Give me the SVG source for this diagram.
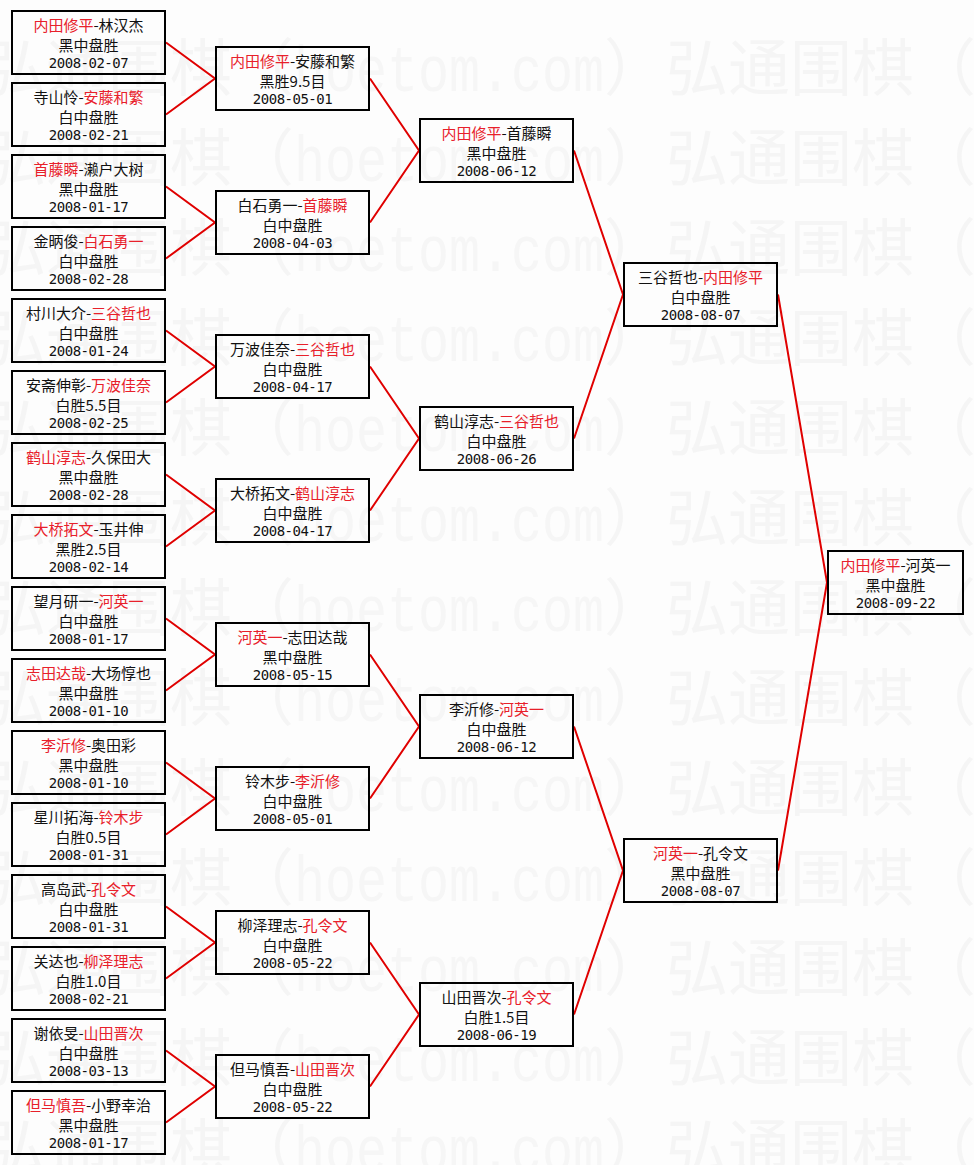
<svg xmlns="http://www.w3.org/2000/svg" xmlns:xlink="http://www.w3.org/1999/xlink" width="974" height="1165" viewBox="0 0 974 1165">
<style>
.b{fill:none;stroke:#000;stroke-width:2}
.t{font-family:"Noto Sans CJK SC","Noto Sans",sans-serif;font-size:15px;fill:#111;text-anchor:middle}
.d{font-family:"DejaVu Sans Mono","Liberation Mono",monospace;font-size:14px;letter-spacing:-0.5px;fill:#111;text-anchor:middle}
.r{fill:#e8202a}
.c{fill:none;stroke:#e00000;stroke-width:2}
.wmc{font-family:"Noto Sans CJK SC",sans-serif;font-size:62px;fill:#f5f5f5}
.wml{font-family:"Liberation Mono",monospace;font-size:64px;fill:#f6f6f6}
</style>
<defs>
<g id="wm"><text class="wmc" x="0" y="0">弘通围棋（</text><text class="wml" x="310" y="0" textLength="310" lengthAdjust="spacingAndGlyphs">hoetom.com</text><text class="wmc" x="620" y="0">）</text></g>
<g id="box"><rect class="b" x="1" y="1" width="153" height="63"/></g>
</defs>
<rect x="0" y="0" width="974" height="1165" fill="#fdfdfd"/>
<g id="watermark">
<use xlink:href="#wm" x="-16" y="91"/><use xlink:href="#wm" x="666" y="91"/>
<use xlink:href="#wm" x="-16" y="181"/><use xlink:href="#wm" x="666" y="181"/>
<use xlink:href="#wm" x="-16" y="271"/><use xlink:href="#wm" x="666" y="271"/>
<use xlink:href="#wm" x="-16" y="361"/><use xlink:href="#wm" x="666" y="361"/>
<use xlink:href="#wm" x="-16" y="451"/><use xlink:href="#wm" x="666" y="451"/>
<use xlink:href="#wm" x="-16" y="541"/><use xlink:href="#wm" x="666" y="541"/>
<use xlink:href="#wm" x="-16" y="631"/><use xlink:href="#wm" x="666" y="631"/>
<use xlink:href="#wm" x="-16" y="721"/><use xlink:href="#wm" x="666" y="721"/>
<use xlink:href="#wm" x="-16" y="811"/><use xlink:href="#wm" x="666" y="811"/>
<use xlink:href="#wm" x="-16" y="901"/><use xlink:href="#wm" x="666" y="901"/>
<use xlink:href="#wm" x="-16" y="991"/><use xlink:href="#wm" x="666" y="991"/>
<use xlink:href="#wm" x="-16" y="1081"/><use xlink:href="#wm" x="666" y="1081"/>
<use xlink:href="#wm" x="-16" y="1171"/><use xlink:href="#wm" x="666" y="1171"/>
</g>
<g id="connectors">
<polyline class="c" points="166,42.5 215,78.5 166,114.5"/>
<polyline class="c" points="166,186.5 215,222.5 166,258.5"/>
<polyline class="c" points="166,330.5 215,366.5 166,402.5"/>
<polyline class="c" points="166,474.5 215,510.5 166,546.5"/>
<polyline class="c" points="166,618.5 215,654.5 166,690.5"/>
<polyline class="c" points="166,762.5 215,798.5 166,834.5"/>
<polyline class="c" points="166,906.5 215,942.5 166,978.5"/>
<polyline class="c" points="166,1050.5 215,1086.5 166,1122.5"/>
<polyline class="c" points="370,78.5 419,150.5 370,222.5"/>
<polyline class="c" points="370,366.5 419,438.5 370,510.5"/>
<polyline class="c" points="370,654.5 419,726.5 370,798.5"/>
<polyline class="c" points="370,942.5 419,1014.5 370,1086.5"/>
<polyline class="c" points="574,150.5 623,294.5 574,438.5"/>
<polyline class="c" points="574,726.5 623,870.5 574,1014.5"/>
<polyline class="c" points="778,294.5 827,582.5 778,870.5"/>
</g>
<g id="r1-1" transform="translate(11,10)"><use xlink:href="#box"/><text class="t" x="77.5" y="21"><tspan class="r">内田修平</tspan>-林汉杰</text><text class="t" x="77.5" y="40.5">黑中盘胜</text><text class="d" x="77.5" y="58">2008-02-07</text></g>
<g id="r1-2" transform="translate(11,82)"><use xlink:href="#box"/><text class="t" x="77.5" y="21">寺山怜-<tspan class="r">安藤和繁</tspan></text><text class="t" x="77.5" y="40.5">白中盘胜</text><text class="d" x="77.5" y="58">2008-02-21</text></g>
<g id="r1-3" transform="translate(11,154)"><use xlink:href="#box"/><text class="t" x="77.5" y="21"><tspan class="r">首藤瞬</tspan>-濑户大树</text><text class="t" x="77.5" y="40.5">黑中盘胜</text><text class="d" x="77.5" y="58">2008-01-17</text></g>
<g id="r1-4" transform="translate(11,226)"><use xlink:href="#box"/><text class="t" x="77.5" y="21">金昞俊-<tspan class="r">白石勇一</tspan></text><text class="t" x="77.5" y="40.5">白中盘胜</text><text class="d" x="77.5" y="58">2008-02-28</text></g>
<g id="r1-5" transform="translate(11,298)"><use xlink:href="#box"/><text class="t" x="77.5" y="21">村川大介-<tspan class="r">三谷哲也</tspan></text><text class="t" x="77.5" y="40.5">白中盘胜</text><text class="d" x="77.5" y="58">2008-01-24</text></g>
<g id="r1-6" transform="translate(11,370)"><use xlink:href="#box"/><text class="t" x="77.5" y="21">安斋伸彰-<tspan class="r">万波佳奈</tspan></text><text class="t" x="77.5" y="40.5">白胜5.5目</text><text class="d" x="77.5" y="58">2008-02-25</text></g>
<g id="r1-7" transform="translate(11,442)"><use xlink:href="#box"/><text class="t" x="77.5" y="21"><tspan class="r">鹤山淳志</tspan>-久保田大</text><text class="t" x="77.5" y="40.5">黑中盘胜</text><text class="d" x="77.5" y="58">2008-02-28</text></g>
<g id="r1-8" transform="translate(11,514)"><use xlink:href="#box"/><text class="t" x="77.5" y="21"><tspan class="r">大桥拓文</tspan>-玉井伸</text><text class="t" x="77.5" y="40.5">黑胜2.5目</text><text class="d" x="77.5" y="58">2008-02-14</text></g>
<g id="r1-9" transform="translate(11,586)"><use xlink:href="#box"/><text class="t" x="77.5" y="21">望月研一-<tspan class="r">河英一</tspan></text><text class="t" x="77.5" y="40.5">白中盘胜</text><text class="d" x="77.5" y="58">2008-01-17</text></g>
<g id="r1-10" transform="translate(11,658)"><use xlink:href="#box"/><text class="t" x="77.5" y="21"><tspan class="r">志田达哉</tspan>-大场惇也</text><text class="t" x="77.5" y="40.5">黑中盘胜</text><text class="d" x="77.5" y="58">2008-01-10</text></g>
<g id="r1-11" transform="translate(11,730)"><use xlink:href="#box"/><text class="t" x="77.5" y="21"><tspan class="r">李沂修</tspan>-奥田彩</text><text class="t" x="77.5" y="40.5">黑中盘胜</text><text class="d" x="77.5" y="58">2008-01-10</text></g>
<g id="r1-12" transform="translate(11,802)"><use xlink:href="#box"/><text class="t" x="77.5" y="21">星川拓海-<tspan class="r">铃木步</tspan></text><text class="t" x="77.5" y="40.5">白胜0.5目</text><text class="d" x="77.5" y="58">2008-01-31</text></g>
<g id="r1-13" transform="translate(11,874)"><use xlink:href="#box"/><text class="t" x="77.5" y="21">高岛武-<tspan class="r">孔令文</tspan></text><text class="t" x="77.5" y="40.5">白中盘胜</text><text class="d" x="77.5" y="58">2008-01-31</text></g>
<g id="r1-14" transform="translate(11,946)"><use xlink:href="#box"/><text class="t" x="77.5" y="21">关达也-<tspan class="r">柳泽理志</tspan></text><text class="t" x="77.5" y="40.5">白胜1.0目</text><text class="d" x="77.5" y="58">2008-02-21</text></g>
<g id="r1-15" transform="translate(11,1018)"><use xlink:href="#box"/><text class="t" x="77.5" y="21">谢依旻-<tspan class="r">山田晋次</tspan></text><text class="t" x="77.5" y="40.5">白中盘胜</text><text class="d" x="77.5" y="58">2008-03-13</text></g>
<g id="r1-16" transform="translate(11,1090)"><use xlink:href="#box"/><text class="t" x="77.5" y="21"><tspan class="r">但马慎吾</tspan>-小野幸治</text><text class="t" x="77.5" y="40.5">黑中盘胜</text><text class="d" x="77.5" y="58">2008-01-17</text></g>
<g id="r2-1" transform="translate(215,46)"><use xlink:href="#box"/><text class="t" x="77.5" y="21"><tspan class="r">内田修平</tspan>-安藤和繁</text><text class="t" x="77.5" y="40.5">黑胜9.5目</text><text class="d" x="77.5" y="58">2008-05-01</text></g>
<g id="r2-2" transform="translate(215,190)"><use xlink:href="#box"/><text class="t" x="77.5" y="21">白石勇一-<tspan class="r">首藤瞬</tspan></text><text class="t" x="77.5" y="40.5">白中盘胜</text><text class="d" x="77.5" y="58">2008-04-03</text></g>
<g id="r2-3" transform="translate(215,334)"><use xlink:href="#box"/><text class="t" x="77.5" y="21">万波佳奈-<tspan class="r">三谷哲也</tspan></text><text class="t" x="77.5" y="40.5">白中盘胜</text><text class="d" x="77.5" y="58">2008-04-17</text></g>
<g id="r2-4" transform="translate(215,478)"><use xlink:href="#box"/><text class="t" x="77.5" y="21">大桥拓文-<tspan class="r">鹤山淳志</tspan></text><text class="t" x="77.5" y="40.5">白中盘胜</text><text class="d" x="77.5" y="58">2008-04-17</text></g>
<g id="r2-5" transform="translate(215,622)"><use xlink:href="#box"/><text class="t" x="77.5" y="21"><tspan class="r">河英一</tspan>-志田达哉</text><text class="t" x="77.5" y="40.5">黑中盘胜</text><text class="d" x="77.5" y="58">2008-05-15</text></g>
<g id="r2-6" transform="translate(215,766)"><use xlink:href="#box"/><text class="t" x="77.5" y="21">铃木步-<tspan class="r">李沂修</tspan></text><text class="t" x="77.5" y="40.5">白中盘胜</text><text class="d" x="77.5" y="58">2008-05-01</text></g>
<g id="r2-7" transform="translate(215,910)"><use xlink:href="#box"/><text class="t" x="77.5" y="21">柳泽理志-<tspan class="r">孔令文</tspan></text><text class="t" x="77.5" y="40.5">白中盘胜</text><text class="d" x="77.5" y="58">2008-05-22</text></g>
<g id="r2-8" transform="translate(215,1054)"><use xlink:href="#box"/><text class="t" x="77.5" y="21">但马慎吾-<tspan class="r">山田晋次</tspan></text><text class="t" x="77.5" y="40.5">白中盘胜</text><text class="d" x="77.5" y="58">2008-05-22</text></g>
<g id="r3-1" transform="translate(419,118)"><use xlink:href="#box"/><text class="t" x="77.5" y="21"><tspan class="r">内田修平</tspan>-首藤瞬</text><text class="t" x="77.5" y="40.5">黑中盘胜</text><text class="d" x="77.5" y="58">2008-06-12</text></g>
<g id="r3-2" transform="translate(419,406)"><use xlink:href="#box"/><text class="t" x="77.5" y="21">鹤山淳志-<tspan class="r">三谷哲也</tspan></text><text class="t" x="77.5" y="40.5">白中盘胜</text><text class="d" x="77.5" y="58">2008-06-26</text></g>
<g id="r3-3" transform="translate(419,694)"><use xlink:href="#box"/><text class="t" x="77.5" y="21">李沂修-<tspan class="r">河英一</tspan></text><text class="t" x="77.5" y="40.5">白中盘胜</text><text class="d" x="77.5" y="58">2008-06-12</text></g>
<g id="r3-4" transform="translate(419,982)"><use xlink:href="#box"/><text class="t" x="77.5" y="21">山田晋次-<tspan class="r">孔令文</tspan></text><text class="t" x="77.5" y="40.5">白胜1.5目</text><text class="d" x="77.5" y="58">2008-06-19</text></g>
<g id="r4-1" transform="translate(623,262)"><use xlink:href="#box"/><text class="t" x="77.5" y="21">三谷哲也-<tspan class="r">内田修平</tspan></text><text class="t" x="77.5" y="40.5">白中盘胜</text><text class="d" x="77.5" y="58">2008-08-07</text></g>
<g id="r4-2" transform="translate(623,838)"><use xlink:href="#box"/><text class="t" x="77.5" y="21"><tspan class="r">河英一</tspan>-孔令文</text><text class="t" x="77.5" y="40.5">黑中盘胜</text><text class="d" x="77.5" y="58">2008-08-07</text></g>
<g id="final" transform="translate(827,550)"><rect class="b" x="1" y="1" width="135" height="63"/><text class="t" x="68.5" y="21"><tspan class="r">内田修平</tspan>-河英一</text><text class="t" x="68.5" y="40.5">黑中盘胜</text><text class="d" x="68.5" y="58">2008-09-22</text></g>
</svg>
